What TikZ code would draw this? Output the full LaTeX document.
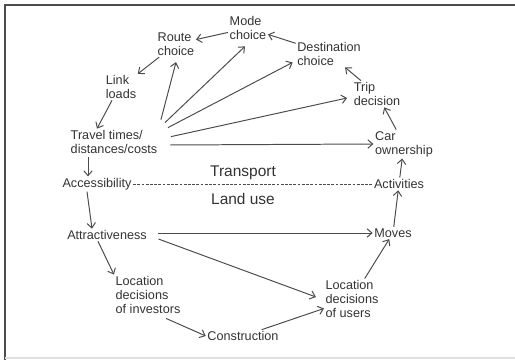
\documentclass[tikz,border=0pt]{standalone}
\usepackage{fontspec}
\setmainfont{Liberation Sans}
\usetikzlibrary{arrows.meta}

\begin{document}
\begin{tikzpicture}[x=0.025cm,y=-0.025cm,
	every node/.style={align=left,inner sep=1pt,text=black!80,font=\fontsize{9}{10}\selectfont},
	link/.style={->,>={Straight Barb[length=3.5pt,width=6pt]},line width=0.7pt,draw=black!70},
	divide/.style={draw=black!70,line width=0.6pt,dash pattern=on 2pt off 1pt},
	sector/.style={font=\fontsize{11}{12}\selectfont}]
	\useasboundingbox (0,0) rectangle (515,360);
	
	%frame
	\draw[black!70,line width=1.6pt] (5,360)--(5,5)--(515,5);
	\draw[black!12,line width=0.8pt] (5,358)--(515,358);
	
	%transport side
	\node (mode)	at (248,28)	{Mode\\choice};
	\node (route)	at (176,44)	{Route\\choice};
	\node (dest)	at (329,54)	{Destination\\choice};
	\node (trip)	at (377,94)	{Trip\\decision};
	\node (car)		at (404,144)	{Car\\ownership};
	\node (loads)	at (121,87)	{Link\\loads};
	\node (travel)	at (114,142)	{Travel times/\\distances/costs};
	
	%land use side
	\node (activ)	at (399,184)	{Activities};
	\node (moves)	at (393,233)	{Moves};
	\node (users)	at (352,299)	{Location\\decisions\\of users};
	\node (constr)	at (243,336)	{Construction};
	\node (invest)	at (148,295)	{Location\\decisions\\of investors};
	\node (attract)	at (107,235)	{Attractiveness};
	\node (access)	at (97,184)	{Accessibility};
	
	%sector labels
	\node[sector] (transport)	at (243,173)	{Transport};
	\node[sector] (landuse)	at (243,199)	{Land use};
	\draw[divide] (access)--(activ);
	
	%cycle
	\draw[link] (mode)--(route);
	\draw[link] (route)--(loads);
	\draw[link] ([shift={(-9,0)}]loads.south)--([shift={(-17,0)}]travel.north);
	\draw[link] ([shift={(-26,2)}]travel.south)--([shift={(-9,0)}]access.north);
	\draw[link] ([shift={(-10,0)}]access.south)--([shift={(-15,0)}]attract.north);
	\draw[link] ([shift={(-9,0)}]attract.south)--(invest.north west);
	\draw[link] ([shift={(18,3)}]invest.south)--(constr.west);
	\draw[link] (constr)--(users);
	\draw[link] (users)--(moves);
	\draw[link] (moves)--(activ);
	\draw[link] (activ)--(car);
	\draw[link] (car)--(trip);
	\draw[link] (trip)--(dest);
	\draw[link] (dest)--(mode);
	
	%fan from travel times
	\draw[link] ([shift={(2,-9)}]travel.north east)--([shift={(0,5)}]route.south);
	\draw[link] ([shift={(6,-6)}]travel.north east)--([shift={(-3,5)}]mode.south);
	\draw[link] ([shift={(9,-1)}]travel.north east)--([shift={(-3,-5)}]dest.south west);
	\draw[link] ([shift={(12,8)}]travel.north east)--([shift={(-5,4)}]trip.west);
	\draw[link] ([shift={(11,3)}]travel.east)--(car.west);
	
	%land use links
	\draw[link] ([shift={(10,-2)}]attract.east)--(moves.west);
	\draw[link] ([shift={(10,4)}]attract.east)--([shift={(-8,-2)}]users.west);
\end{tikzpicture}
\end{document}
